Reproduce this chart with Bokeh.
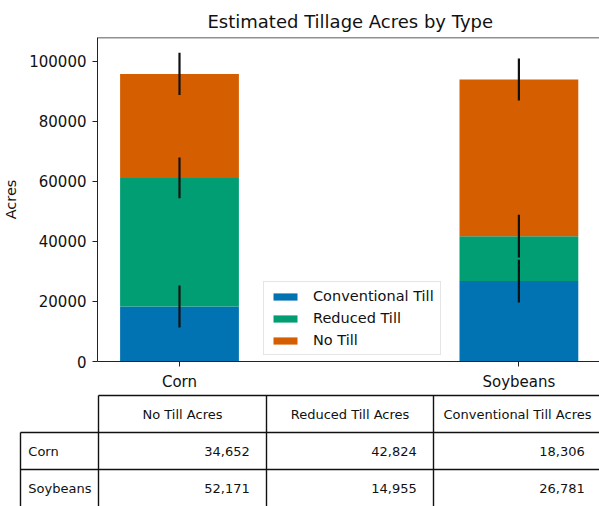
import numpy as np
from bokeh.plotting import figure
from bokeh.models import Range1d, FixedTicker, Legend, LegendItem, Span, BasicTickFormatter
from bokeh.layouts import column
from bokeh.embed import file_html
from bokeh.resources import INLINE
from bokeh.core.properties import value

# ---------------- data ----------------
crops = ["Corn", "Soybeans"]
series = ["Conventional Till", "Reduced Till", "No Till"]
conventional = [18306, 26781]
reduced = [42824, 14955]
no_till = [34652, 52171]
conventional_err = [7000, 7100]
reduced_err = [6800, 7100]
no_till_err = [7000, 7000]
colors = ["#0173B2", "#029E73", "#D55E00"]
y_ticks = [0, 20000, 40000, 60000, 80000, 100000]
table_headers = ["No Till Acres", "Reduced Till Acres", "Conventional Till Acres"]
table_rows = [[34652, 42824, 18306], [52171, 14955, 26781]]

FONT = "DejaVu Sans"
W = 599
TXT = "#111111"
TOP = 37
LEFT = 97

p = figure(width=W, height=393, output_backend="svg", toolbar_location=None,
           x_range=Range1d(-0.2416, 1.2375), y_range=Range1d(0, 107900),
           min_border_left=LEFT, min_border_right=0, min_border_top=TOP, min_border_bottom=31,
           title="Estimated Tillage Acres by Type")
p.frame_align = False
p.title.align = "left"
p.title.offset = 110
p.title.text_font = FONT
p.title.text_font_size = "18px"
p.title.text_font_style = "normal"
p.title.text_color = TXT
p.title.standoff = 11
p.outline_line_color = None
p.xgrid.visible = False
p.ygrid.visible = False

xs = list(range(len(crops)))
p.xaxis.ticker = FixedTicker(ticks=xs)
p.xaxis.major_label_overrides = {i: c for i, c in zip(xs, crops)}
p.yaxis.ticker = FixedTicker(ticks=y_ticks)
p.yaxis.formatter = BasicTickFormatter(use_scientific=False)
p.yaxis.axis_label = "Acres"
p.yaxis.axis_label_text_font_style = "normal"
p.yaxis.axis_label_standoff = 7
for ax in (p.xaxis, p.yaxis):
    ax.axis_label_text_font = FONT
    ax.axis_label_text_font_size = "14.5px"
    ax.axis_label_text_color = TXT
    ax.major_label_text_font = FONT
    ax.major_label_text_font_size = "15px"
    ax.major_label_text_color = TXT
    ax.major_label_standoff = 6
    ax.minor_tick_line_color = None
    ax.major_tick_in = 0
    ax.major_tick_out = 5
    ax.axis_line_color = "#222222"
    ax.major_tick_line_color = "#222222"

p.add_layout(Span(location=107900, dimension="width", line_color="#222222", line_width=1.5))

bottoms = np.zeros(len(crops))
renderers = []
errs_all = []
for vals, errs, color in zip([conventional, reduced, no_till],
                             [conventional_err, reduced_err, no_till_err], colors):
    top = bottoms + np.array(vals)
    r = p.vbar(x=xs, width=0.35, bottom=bottoms, top=top, fill_color=color, line_color=None)
    renderers.append(r)
    errs_all.append((top.copy(), np.array(errs)))
    bottoms = top

for top, err in errs_all:
    p.segment(x0=xs, y0=top - err, x1=xs, y1=top + err, line_color="#111111", line_width=2.2)

legend = Legend(items=[LegendItem(label=n, renderers=[r]) for n, r in zip(series, renderers)],
                location=(166, 6), glyph_width=30, glyph_height=9, label_standoff=13,
                padding=6, spacing=6, margin=0,
                label_text_font=FONT, label_text_font_size="14.5px", label_text_color=TXT,
                border_line_color="#cccccc", border_line_width=1,
                background_fill_color="white", background_fill_alpha=0.8)
p.add_layout(legend)

# ---------------- table ----------------
TH = 113
t = figure(width=W, height=TH, output_backend="svg", toolbar_location=None,
           x_range=Range1d(0, W), y_range=Range1d(TH, 0),
           x_axis_location=None, y_axis_location=None,
           min_border_left=0, min_border_right=0, min_border_top=0, min_border_bottom=0)
t.frame_align = False
t.grid.visible = False
t.outline_line_color = None

col_edges = [20, 98, 266, 433, 601]
row_edges = [2, 39, 76, 113]
hx0 = [col_edges[1], col_edges[0], col_edges[0]]
hy = [row_edges[0], row_edges[1], row_edges[2]]
t.segment(x0=hx0, y0=hy, x1=[W + 5] * 3, y1=hy, line_color="#111111", line_width=1.4)
vx = [col_edges[0], col_edges[1], col_edges[2], col_edges[3]]
vy0 = [row_edges[1], row_edges[0], row_edges[0], row_edges[0]]
t.segment(x0=vx, y0=vy0, x1=vx, y1=[TH + 5] * 4, line_color="#111111", line_width=1.4)

hcx = [(col_edges[i + 1] + col_edges[i + 2]) / 2 for i in range(3)]
t.text(x=hcx, y=[(row_edges[0] + row_edges[1]) / 2] * 3, text=table_headers,
       text_align="center", text_baseline="middle", text_font=value(FONT),
       text_font_size=value("13px"), text_color=TXT)

row_y = [(row_edges[i + 1] + row_edges[i + 2]) / 2 for i in range(len(crops))]
t.text(x=[col_edges[0] + 7.8] * len(crops), y=row_y, text=crops,
       text_align="left", text_baseline="middle", text_font=value(FONT),
       text_font_size=value("13px"), text_color=TXT)

vxs, vys, vtx = [], [], []
for ri, row in enumerate(table_rows):
    for ci, v in enumerate(row):
        vxs.append(col_edges[ci + 2] - 16.8)
        vys.append(row_y[ri])
        vtx.append(f"{v:,}")
t.text(x=vxs, y=vys, text=vtx, text_align="right", text_baseline="middle",
       text_font=value(FONT), text_font_size=value("13px"), text_color=TXT)

layout = column(p, t)
open("out.html", "w").write(file_html(layout, INLINE))
